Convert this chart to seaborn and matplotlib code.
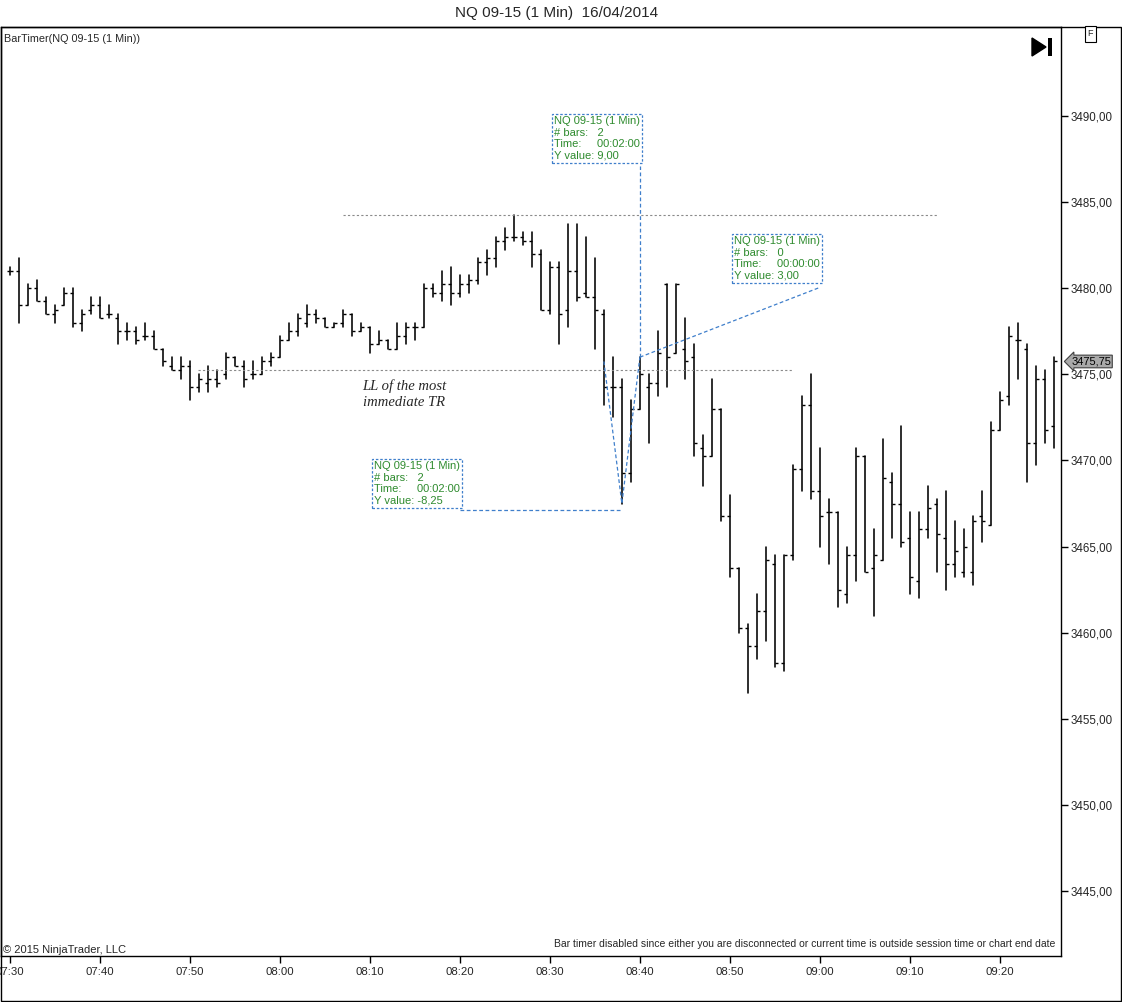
import matplotlib
matplotlib.use("Agg")
import matplotlib.pyplot as plt
import matplotlib.transforms as mtransforms
from matplotlib.markers import TICKLEFT, TICKRIGHT
from matplotlib.patches import Rectangle, Polygon
import pandas as pd
import seaborn as sns

# one-minute NQ 09-15 bars, 07:30 .. 09:26
opens = [3481.0, 3481.0, 3479.0, 3480.0, 3479.25, 3478.5, 3479.0, 3479.75, 3478.0, 3478.75,
         3479.0, 3478.5, 3478.25, 3477.5, 3477.5, 3477.25, 3477.25, 3476.5, 3475.5, 3475.25,
         3475.5, 3474.25, 3474.5, 3474.75, 3475.0, 3476.0, 3475.5, 3475.0, 3475.0, 3475.75,
         3476.0, 3477.0, 3477.5, 3478.0, 3478.5, 3478.25, 3477.75, 3478.0, 3478.5, 3477.5,
         3477.75, 3476.75, 3477.0, 3476.5, 3477.25, 3477.75, 3477.75, 3480.0, 3479.75, 3480.25,
         3479.75, 3480.25, 3480.5, 3481.5, 3481.75, 3482.75, 3483.0, 3483.0, 3482.75, 3482.0,
         3478.75, 3481.25, 3478.75, 3481.0, 3479.75, 3479.5, 3478.5, 3474.25, 3474.25, 3469.25,
         3473.0, 3474.25, 3474.5, 3480.25, 3476.25, 3476.5, 3476.0, 3470.75, 3470.25, 3473.0,
         3466.75, 3463.75, 3460.25, 3459.25, 3461.25, 3464.0, 3458.25, 3464.5, 3469.5, 3473.25,
         3468.25, 3467.0, 3467.0, 3462.25, 3464.5, 3470.25, 3463.75, 3464.25, 3468.75, 3467.5,
         3465.5, 3463.0, 3466.0, 3467.5, 3465.5, 3464.0, 3463.5, 3463.5, 3466.75, 3466.25,
         3471.75, 3473.75, 3477.0, 3476.5, 3471.0, 3474.75, 3472.0]
highs = [3481.25, 3481.75, 3480.25, 3480.5, 3479.5, 3479.0, 3480.0, 3480.0, 3478.75, 3479.5,
         3479.5, 3479.0, 3478.5, 3478.0, 3477.75, 3478.0, 3477.5, 3476.5, 3476.0, 3476.0,
         3475.75, 3475.0, 3475.5, 3475.25, 3476.25, 3476.0, 3475.75, 3475.75, 3476.0, 3476.25,
         3477.25, 3478.0, 3478.5, 3479.0, 3478.75, 3478.25, 3478.0, 3478.75, 3478.5, 3478.0,
         3477.75, 3477.5, 3477.0, 3478.0, 3478.0, 3478.0, 3480.25, 3480.25, 3481.0, 3481.25,
         3480.75, 3480.75, 3481.75, 3482.25, 3483.0, 3483.5, 3484.25, 3483.25, 3483.25, 3482.25,
         3481.5, 3481.5, 3483.75, 3483.75, 3483.0, 3481.75, 3478.75, 3476.0, 3474.75, 3473.5,
         3476.0, 3475.0, 3477.5, 3480.25, 3480.25, 3478.25, 3476.75, 3471.5, 3474.75, 3473.0,
         3468.0, 3463.75, 3460.5, 3462.25, 3465.0, 3464.5, 3464.5, 3469.75, 3473.75, 3475.0,
         3470.75, 3467.75, 3467.0, 3465.0, 3470.75, 3470.25, 3466.0, 3471.25, 3469.25, 3472.0,
         3467.0, 3467.0, 3468.5, 3467.75, 3468.25, 3466.5, 3466.0, 3466.75, 3468.25, 3472.25,
         3474.0, 3477.75, 3478.0, 3476.75, 3475.5, 3475.25, 3476.0]
lows = [3480.75, 3478.0, 3479.0, 3479.25, 3478.5, 3478.0, 3479.0, 3477.75, 3477.5, 3478.5,
        3478.25, 3478.25, 3476.75, 3477.0, 3476.75, 3477.0, 3476.5, 3475.5, 3475.25, 3474.75,
        3473.5, 3474.0, 3474.0, 3474.25, 3474.75, 3475.5, 3474.25, 3474.75, 3475.0, 3475.5,
        3476.0, 3477.0, 3477.25, 3477.75, 3478.0, 3477.75, 3477.75, 3477.75, 3477.25, 3477.5,
        3476.25, 3476.75, 3476.5, 3476.5, 3476.75, 3477.0, 3477.75, 3479.5, 3479.25, 3479.0,
        3479.5, 3479.75, 3480.25, 3480.75, 3481.25, 3482.25, 3482.75, 3482.5, 3481.25, 3478.75,
        3478.5, 3476.75, 3477.75, 3479.25, 3479.5, 3476.5, 3473.25, 3472.5, 3467.5, 3468.75,
        3473.0, 3471.0, 3473.75, 3474.25, 3476.25, 3474.75, 3470.25, 3468.5, 3470.25, 3466.5,
        3463.25, 3460.0, 3456.5, 3458.5, 3459.5, 3458.0, 3457.75, 3464.25, 3468.25, 3467.75,
        3465.0, 3464.0, 3461.5, 3461.75, 3463.0, 3463.5, 3461.0, 3464.25, 3465.5, 3465.0,
        3462.25, 3462.0, 3465.5, 3463.5, 3462.5, 3463.25, 3463.25, 3462.75, 3465.25, 3466.25,
        3471.75, 3473.25, 3474.75, 3468.75, 3469.75, 3471.0, 3470.75]
closes = [3481.0, 3479.0, 3480.0, 3479.25, 3478.5, 3478.75, 3479.75, 3478.0, 3478.5, 3479.0,
          3478.25, 3478.5, 3477.5, 3477.5, 3477.0, 3477.25, 3476.5, 3475.75, 3475.25, 3475.5,
          3474.25, 3474.75, 3474.75, 3474.5, 3476.0, 3475.5, 3474.75, 3475.0, 3475.75, 3476.0,
          3477.0, 3477.5, 3478.25, 3478.5, 3478.25, 3477.75, 3478.0, 3478.5, 3477.5, 3477.75,
          3476.75, 3477.0, 3476.5, 3477.25, 3477.75, 3477.75, 3480.0, 3479.75, 3480.25, 3479.75,
          3480.25, 3480.5, 3481.5, 3481.75, 3482.75, 3483.0, 3483.0, 3482.75, 3482.0, 3478.75,
          3481.25, 3478.5, 3481.0, 3479.5, 3479.5, 3478.75, 3474.25, 3474.25, 3469.25, 3473.0,
          3475.0, 3474.5, 3476.25, 3476.0, 3480.25, 3475.75, 3471.0, 3470.25, 3473.0, 3466.75,
          3463.75, 3460.25, 3459.25, 3461.25, 3464.25, 3458.25, 3464.5, 3469.5, 3473.25, 3468.25,
          3466.75, 3467.0, 3462.5, 3464.5, 3470.25, 3463.5, 3464.5, 3469.0, 3467.5, 3465.25,
          3463.25, 3466.0, 3467.25, 3465.75, 3464.0, 3464.75, 3465.0, 3466.5, 3466.5, 3471.75,
          3473.5, 3477.25, 3477.0, 3471.0, 3474.75, 3471.75, 3475.75]

times = pd.date_range("2014-04-16 07:30", periods=len(opens), freq="min")
price_ticks = [3445, 3450, 3455, 3460, 3465, 3470, 3475, 3480, 3485, 3490]
last_price = 3475.75

# drawing objects (bar index, price)
hh_level, hh_from, hh_to = 3484.25, 37, 103
ll_level, ll_from, ll_to = 3475.25, 20.9, 87
ruler_x = [66, 68, 70]
ruler_y = [3475.75, 3467.5, 3476.0]
ruler_boxes = [
    ((554, 116), "NQ 09-15 (1 Min)\n# bars:   2\nTime:     00:02:00\nY value: 9,00"),
    ((734, 236), "NQ 09-15 (1 Min)\n# bars:   0\nTime:     00:00:00\nY value: 3,00"),
    ((374, 461), "NQ 09-15 (1 Min)\n# bars:   2\nTime:     00:02:00\nY value: -8,25"),
]

W, H = 1122, 1002


def fx(x):
    return x / W


def fy(y):
    return 1 - y / H


sns.set_theme(style="white")
plt.rcParams['font.family'] = ['Liberation Sans', 'DejaVu Sans']

fig = plt.figure(figsize=(W / 100, H / 100), dpi=100)
ax = fig.add_axes([fx(1), fy(956), fx(1061) - fx(1), fy(27) - fy(956)])

n = list(range(len(opens)))
hl = pd.DataFrame({
    "bar": n + n,
    "price": highs + lows,
})
hl["minute"] = hl["bar"]
sns.lineplot(data=hl, x="minute", y="price", units="bar", estimator=None,
             color="black", linewidth=1.15, ax=ax, legend=False)
ax.plot(n, opens, ls="none", marker=TICKLEFT, ms=2.2, mew=1.0, color="black")
ax.plot(n, closes, ls="none", marker=TICKRIGHT, ms=2.2, mew=1.0, color="black")

ax.hlines(hh_level, hh_from, hh_to, colors="#8a8a8a", linestyles=(0, (2, 2)), lw=0.8)
ax.hlines(ll_level, ll_from, ll_to, colors="#8a8a8a", linestyles=(0, (2, 2)), lw=0.8)

blue = "#3f7fcb"
dash = (0, (3, 2))
ax.plot(ruler_x, ruler_y, color=blue, lw=0.9, ls=dash)
ax.plot([70, 70], [ruler_y[2], 3487.1], color=blue, lw=0.9, ls=dash)
ax.plot([70, 90], [ruler_y[2], 3480.05], color=blue, lw=0.9, ls=dash)
ax.plot([50, 68], [3467.12, 3467.12], color=blue, lw=0.9, ls=dash)

for (bx, by), txt in ruler_boxes:
    fig.text(fx(bx), fy(by), txt, ha="left", va="top", fontsize=8, color="#2e8b2e",
             linespacing=1.2,
             bbox=dict(boxstyle="square,pad=0.22", fc="white", ec=blue, lw=0.9, ls=(0, (2, 1.5))))

fig.text(fx(404), fy(394), "LL of the most\nimmediate TR", ha="center", va="center",
         fontsize=10.5, fontstyle="italic", family=["Liberation Serif", "DejaVu Serif"],
         linespacing=1.25)

ax.set_xlim(-1.0, 116.8)
ax.set_ylim(3441.23, 3495.17)
ax.set_xlabel("")
ax.set_ylabel("")
ax.set_xticks(n[::10])
ax.set_xticklabels(times[::10].strftime("%H:%M"))
ax.yaxis.tick_right()
ax.set_yticks(price_ticks)
ax.set_yticklabels([f"{v:.2f}".replace(".", ",") for v in price_ticks])
ax.tick_params(axis="x", direction="out", length=5, width=1, labelsize=8.2, pad=3,
               color="black", bottom=True)
ax.tick_params(axis="y", direction="out", length=5, width=1, labelsize=8.3, pad=2,
               color="black", right=True, left=False)
for s in ax.spines.values():
    s.set_color("black")
    s.set_linewidth(1)

# last price marker on the axis
trans = mtransforms.blended_transform_factory(ax.transAxes, ax.transData)
ax.text(1.0095, last_price, f"{last_price:.2f}".replace(".", ","), transform=trans,
        ha="left", va="center", fontsize=8, color="black", clip_on=False,
        bbox=dict(boxstyle="larrow,pad=0.12", fc="#a9a9a9", ec="#404040", lw=0.8))

# window chrome
fig.add_artist(Rectangle((fx(0.5), fy(1000.5)), fx(1121) - fx(0.5), fy(27) - fy(1000.5),
                         fill=False, ec="black", lw=1, transform=fig.transFigure))
fig.add_artist(Polygon([(fx(1032), fy(38)), (fx(1032), fy(56)), (fx(1046), fy(47))],
                       closed=True, fc="black", ec="black", transform=fig.transFigure))
fig.add_artist(Rectangle((fx(1047.5), fy(56)), fx(4), fy(38) - fy(56),
                         fc="black", ec="none", transform=fig.transFigure))
fig.text(fx(1090.5), fy(34), "F", ha="center", va="center", fontsize=6.5,
         bbox=dict(boxstyle="square,pad=0.35", fc="white", ec="black", lw=0.8))

fig.text(fx(557), fy(13), "NQ 09-15 (1 Min)  16/04/2014", ha="center", va="center", fontsize=11)
fig.text(fx(4), fy(39), "BarTimer(NQ 09-15 (1 Min))", ha="left", va="center", fontsize=7.8)
fig.text(fx(3), fy(950), "\u00a9 2015 NinjaTrader, LLC", ha="left", va="center", fontsize=8)
fig.text(fx(1055), fy(944),
         "Bar timer disabled since either you are disconnected or current time is outside "
         "session time or chart end date", ha="right", va="center", fontsize=7.5)

fig.savefig("out.png", dpi=100)
